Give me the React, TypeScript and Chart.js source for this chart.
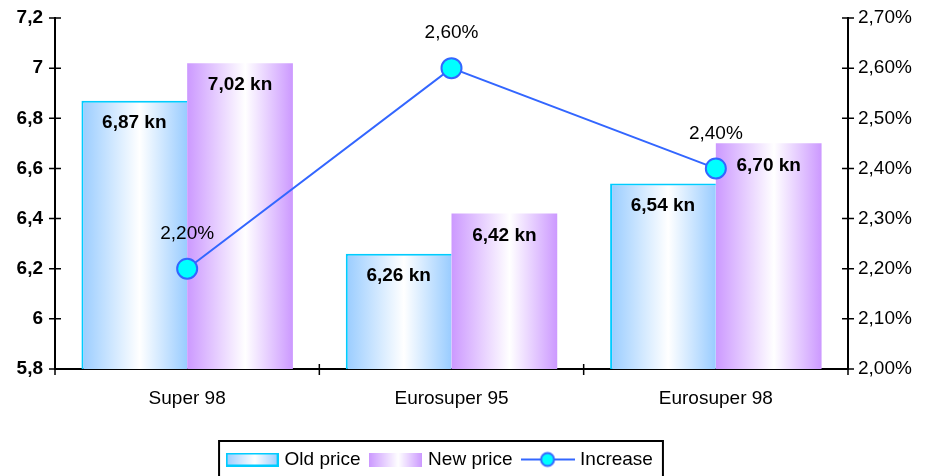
import React, { useEffect, useRef } from 'react';
import { Chart, registerables } from 'chart.js';

Chart.register(...registerables);

const categories = ['Super 98', 'Eurosuper 95', 'Eurosuper 98'];
const oldPrice = [6.87, 6.26, 6.54];
const newPrice = [7.02, 6.42, 6.7];
const increase = [2.2, 2.6, 2.4];
const seriesNames = ['Old price', 'New price', 'Increase'];

const FONT = 'Arial, "Liberation Sans", Helvetica, sans-serif';
const FS = 19;
const OLD_COL = '#99ccff';
const NEW_COL = '#cc99ff';
const OLD_BORDER = '#00ccff';
const LINE_COL = '#3366ff';
const POINT_COL = '#00ffff';

const fmtKn = (v: number) => v.toFixed(2).replace('.', ',') + ' kn';
const fmtPct = (v: number) => v.toFixed(2).replace('.', ',') + '%';
const fmtLeft = (v: number) => String(Number(v.toFixed(1))).replace('.', ',');

function makeSwatch(kind: number): HTMLCanvasElement {
  const c = document.createElement('canvas');
  const g = c.getContext('2d') as CanvasRenderingContext2D;
  if (kind === 2) {
    c.width = 54;
    c.height = 20;
    g.strokeStyle = LINE_COL;
    g.lineWidth = 2;
    g.beginPath();
    g.moveTo(0, 10);
    g.lineTo(54, 10);
    g.stroke();
    g.beginPath();
    g.arc(27, 10, 6.5, 0, Math.PI * 2);
    g.fillStyle = POINT_COL;
    g.fill();
    g.stroke();
  } else {
    c.width = 53;
    c.height = 14;
    const col = kind === 0 ? OLD_COL : NEW_COL;
    const gr = g.createLinearGradient(0, 0, 53, 0);
    gr.addColorStop(0, col);
    gr.addColorStop(0.55, '#ffffff');
    gr.addColorStop(1, col);
    g.fillStyle = gr;
    g.fillRect(0, 0, 53, 14);
    if (kind === 0) {
      g.strokeStyle = OLD_BORDER;
      g.lineWidth = 2;
      g.strokeRect(1, 1, 51, 12);
    }
  }
  return c;
}

const customPlugin = {
  id: 'customDecor',
  afterLayout(chart: any) {
    const lg = chart.legend;
    if (lg) {
      lg.left = 0;
      lg.right = 882;
    }
  },
  beforeDatasetsDraw(chart: any) {
    const ctx = chart.ctx;
    [0, 1].forEach((di) => {
      const meta = chart.getDatasetMeta(di);
      const col = di === 0 ? OLD_COL : NEW_COL;
      meta.data.forEach((el: any) => {
        const { x, width } = el.getProps(['x', 'width'], true);
        const l = x - width / 2;
        const gr = ctx.createLinearGradient(l, 0, l + width, 0);
        gr.addColorStop(0, col);
        gr.addColorStop(0.55, '#ffffff');
        gr.addColorStop(1, col);
        el.options = { ...el.options, backgroundColor: gr };
      });
    });
  },
  afterDatasetsDraw(chart: any) {
    const ctx = chart.ctx;
    ctx.save();
    ctx.fillStyle = '#000';
    ctx.textAlign = 'center';
    ctx.textBaseline = 'middle';
    ctx.font = `bold ${FS}px ${FONT}`;
    [0, 1].forEach((di) => {
      const meta = chart.getDatasetMeta(di);
      const vals = chart.data.datasets[di].data as number[];
      meta.data.forEach((el: any, i: number) => {
        ctx.fillText(fmtKn(vals[i]), el.x, el.y + 22);
      });
    });
    ctx.font = `${FS}px ${FONT}`;
    const lmeta = chart.getDatasetMeta(2);
    const lvals = chart.data.datasets[2].data as number[];
    lmeta.data.forEach((el: any, i: number) => {
      ctx.fillText(fmtPct(lvals[i]), el.x, el.y - 35);
    });
    ctx.restore();
  },
  afterDraw(chart: any) {
    const ctx = chart.ctx;
    ctx.save();
    ctx.strokeStyle = '#000';
    ctx.lineWidth = 1.5;
    ctx.beginPath();
    const ys = chart.scales.y;
    ys.ticks.forEach((t: any) => {
      const p = ys.getPixelForValue(t.value);
      ctx.moveTo(ys.right - 6, p);
      ctx.lineTo(ys.right + 6, p);
    });
    const y1 = chart.scales.y1;
    y1.ticks.forEach((t: any) => {
      const p = y1.getPixelForValue(t.value);
      ctx.moveTo(y1.left - 6, p);
      ctx.lineTo(y1.left + 6, p);
    });
    const xs = chart.scales.x;
    const half = (xs.getPixelForValue(1) - xs.getPixelForValue(0)) / 2;
    for (let i = 0; i < categories.length; i++) {
      const c = xs.getPixelForValue(i);
      [c - half, c + half].forEach((bx) => {
        ctx.moveTo(bx, xs.top - 5);
        ctx.lineTo(bx, xs.top + 6);
      });
    }
    ctx.stroke();

    const lg = chart.legend;
    const hb = lg.legendHitBoxes;
    if (hb && hb.length) {
      const l = Math.min(...hb.map((h: any) => h.left)) - 10;
      const r = Math.max(...hb.map((h: any) => h.left + h.width)) + 10;
      const t = lg.top + 3;
      ctx.lineWidth = 2;
      ctx.strokeRect(l, t, r - l, chart.height - t + 5);
    }
    ctx.restore();
  },
};

const noVPad = (s: any) => {
  s.paddingTop = 0;
  s.paddingBottom = 0;
};

export default function App() {
  const ref = useRef<HTMLCanvasElement | null>(null);
  useEffect(() => {
    document.body.style.margin = '0';
    const swatches = [makeSwatch(0), makeSwatch(1), makeSwatch(2)];
    const chart = new Chart(ref.current as HTMLCanvasElement, {
      type: 'bar',
      data: {
        labels: categories,
        datasets: [
          {
            type: 'bar',
            label: seriesNames[0],
            data: oldPrice,
            yAxisID: 'y',
            backgroundColor: OLD_COL,
            borderColor: OLD_BORDER,
            borderWidth: { top: 2, left: 2, right: 0, bottom: 0 },
            borderSkipped: false,
            categoryPercentage: 0.8,
            barPercentage: 1,
            order: 1,
          },
          {
            type: 'bar',
            label: seriesNames[1],
            data: newPrice,
            yAxisID: 'y',
            backgroundColor: NEW_COL,
            borderWidth: 0,
            categoryPercentage: 0.8,
            barPercentage: 1,
            order: 1,
          },
          {
            type: 'line',
            label: seriesNames[2],
            data: increase,
            yAxisID: 'y1',
            borderColor: LINE_COL,
            borderWidth: 2,
            pointRadius: 10,
            pointBorderWidth: 2,
            pointBackgroundColor: POINT_COL,
            pointBorderColor: LINE_COL,
            fill: false,
            tension: 0,
            order: 0,
          },
        ] as any,
      },
      options: {
        animation: false,
        responsive: false,
        devicePixelRatio: 1,
        layout: { autoPadding: false, padding: { top: 18, right: 0, left: 0, bottom: -3 } },
        plugins: {
          tooltip: { enabled: false },
          legend: {
            position: 'bottom',
            labels: {
              usePointStyle: true,
              pointStyleWidth: 46,
              padding: 12,
              color: '#000',
              font: { family: FONT, size: FS },
              generateLabels: () =>
                seriesNames.map((t, i) => ({
                  text: t,
                  pointStyle: swatches[i],
                  fillStyle: 'transparent',
                  strokeStyle: 'transparent',
                  lineWidth: 0,
                  hidden: false,
                  datasetIndex: i,
                })),
            },
          },
        },
        scales: {
          x: {
            type: 'category',
            offset: true,
            grid: { display: false },
            border: { display: true, color: '#000', width: 2 },
            ticks: { color: '#000', font: { family: FONT, size: FS }, padding: 10 },
            afterFit: (s: any) => {
              s.height = 69;
            },
          },
          y: {
            position: 'left',
            min: 5.8,
            max: 7.2,
            grid: { display: false },
            border: { display: true, color: '#000', width: 2 },
            ticks: {
              stepSize: 0.2,
              color: '#000',
              font: { family: FONT, size: FS, weight: 'bold' },
              padding: 4,
              callback: (v: any) => fmtLeft(Number(v)),
            },
            afterFit: (s: any) => {
              s.width = 55;
              noVPad(s);
            },
          },
          y1: {
            position: 'right',
            min: 2,
            max: 2.7,
            grid: { display: false },
            border: { display: true, color: '#000', width: 2 },
            ticks: {
              stepSize: 0.1,
              color: '#000',
              font: { family: FONT, size: FS },
              padding: 2,
              callback: (v: any) => fmtPct(Number(v)),
            },
            afterFit: (s: any) => {
              s.width = 82;
              noVPad(s);
            },
          },
        },
      } as any,
      plugins: [customPlugin],
    });
    return () => chart.destroy();
  }, []);
  return (
    <div style={{ width: 930, height: 476 }}>
      <canvas ref={ref} width={930} height={476} style={{ display: 'block' }} />
    </div>
  );
}
